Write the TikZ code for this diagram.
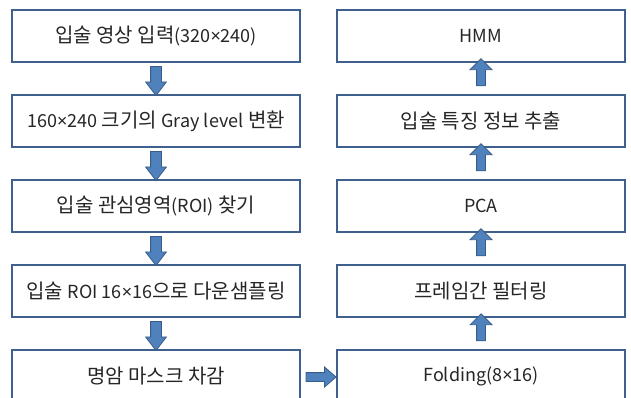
\documentclass[tikz,border=0pt]{standalone}
\usepackage{fontspec}
\setmainfont{Noto Sans CJK KR}
\newfontfamily\latinfont{Noto Sans CJK KR}[Scale=0.9]
\newfontfamily\signfont{Noto Sans}[Scale=0.9]
\newcommand{\lat}[1]{{\latinfont #1}}
\newcommand{\tms}{{\signfont ×}}
\usetikzlibrary{shapes.arrows}
\definecolor{boxline}{HTML}{3F5F8C}
\definecolor{arrfill}{HTML}{4F81BD}
\definecolor{arrline}{HTML}{385D8A}
\definecolor{txt}{HTML}{262626}
\begin{document}
\begin{tikzpicture}[x=1pt, y=-1pt,
	box/.style={draw=boxline, line width=1.6pt, fill=white, minimum width=288pt,
		minimum height=52pt, inner sep=0pt, text=txt, font=\fontsize{20}{23}\selectfont},
	blockarr/.style={single arrow, draw=arrline, fill=arrfill, line width=0.8pt,
		inner sep=0pt, outer sep=0pt},
	downarr/.style={blockarr, rotate=-90, minimum width=20pt,
		minimum height=29pt, single arrow head extend=5pt, single arrow tip angle=75},
	uparr/.style={blockarr, rotate=90, minimum width=21pt,
		minimum height=27pt, single arrow tip angle=90, single arrow head extend=6.5pt},
	rightarr/.style={blockarr, minimum width=19pt, minimum height=30pt,
		single arrow head extend=5.5pt, single arrow tip angle=82}]
	\useasboundingbox (0, 0) rectangle (631, 397);
	\clip (0, 0) rectangle (631, 397);
	\fill[white] (0, 0) rectangle (631, 397);

	% left column, top to bottom
	\node[box] at (156, 36) (input) {입술 영상 입력\lat{(320\tms240)}};
	\node[box] at (156, 121) (gray) {\lat{160\tms240} 크기의 \lat{Gray level} 변환};
	\node[box] at (156, 206) (roi) {입술 관심영역\lat{(ROI)} 찾기};
	\node[box] at (156, 291) (down) {입술 \lat{ROI 16\tms16}으로 다운샘플링};
	\node[box] at (156, 376) (mask) {명암 마스크 차감};

	% right column, bottom to top
	\node[box] at (481, 376) (fold) {\lat{Folding(8\tms16)}};
	\node[box] at (481, 291) (filter) {프레임간 필터링};
	\node[box] at (481, 206) (pca) {\lat{PCA}};
	\node[box] at (481, 121) (feat) {입술 특징 정보 추출};
	\node[box] at (481, 36) (hmm) {\lat{HMM}};

	\path (input) -- (gray) node[midway, downarr, xshift=-1pt] {\rule{0pt}{10pt}};
	\path (gray) -- (roi) node[midway, downarr, xshift=-1pt] {\rule{0pt}{10pt}};
	\path (roi) -- (down) node[midway, downarr, xshift=-1pt] {\rule{0pt}{10pt}};
	\path (down) -- (mask) node[midway, downarr, xshift=-1pt] {\rule{0pt}{10pt}};

	\path (mask.east) -- (fold.west) node[midway, rightarr, yshift=-1pt] {\rule{0pt}{8pt}};

	\path (fold) -- (filter) node[midway, uparr, xshift=4pt] {\rule{0pt}{8pt}};
	\path (filter) -- (pca) node[midway, uparr, xshift=4pt] {\rule{0pt}{8pt}};
	\path (pca) -- (feat) node[midway, uparr, xshift=4pt] {\rule{0pt}{8pt}};
	\path (feat) -- (hmm) node[midway, uparr, xshift=4pt] {\rule{0pt}{8pt}};
\end{tikzpicture}
\end{document}
